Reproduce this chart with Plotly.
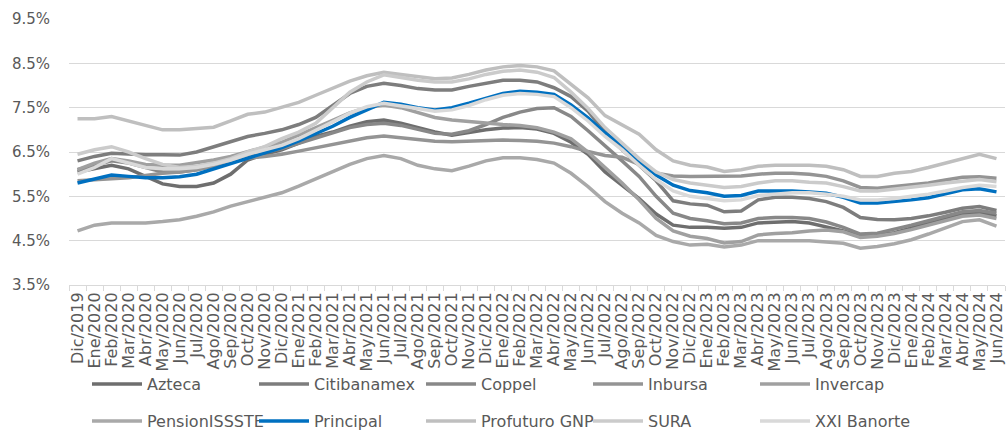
import plotly.graph_objects as go

months = ["Dic/2019",
          "Ene/2020","Feb/2020","Mar/2020","Abr/2020","May/2020","Jun/2020","Jul/2020","Ago/2020","Sep/2020","Oct/2020","Nov/2020","Dic/2020",
          "Ene/2021","Feb/2021","Mar/2021","Abr/2021","May/2021","Jun/2021","Jul/2021","Ago/2021","Sep/2021","Oct/2021","Nov/2021","Dic/2021",
          "Ene/2022","Feb/2022","Mar/2022","Abr/2022","May/2022","Jun/2022","Jul/2022","Ago/2022","Sep/2022","Oct/2022","Nov/2022","Dic/2022",
          "Ene/2023","Feb/2023","Mar/2023","Abr/2023","May/2023","Jun/2023","Jul/2023","Ago/2023","Sep/2023","Oct/2023","Nov/2023","Dic/2023",
          "Ene/2024","Feb/2024","Mar/2024","Abr/2024","May/2024","Jun/2024"]

azteca = [6.05,6.12,6.2,6.12,5.95,5.78,5.72,5.72,5.8,6.0,6.32,6.45,
          6.55,6.7,6.85,6.95,7.08,7.18,7.22,7.15,7.05,6.95,6.88,6.95,
          7.0,7.04,7.05,7.02,6.92,6.72,6.45,6.05,5.75,5.45,5.1,4.85,
          4.8,4.8,4.78,4.8,4.9,4.92,4.93,4.9,4.82,4.72,4.6,4.62,
          4.68,4.78,4.88,5.0,5.1,5.14,5.06]
citibanamex = [6.3,6.4,6.47,6.45,6.44,6.44,6.43,6.5,6.62,6.75,6.85,6.92,
               7.0,7.12,7.28,7.55,7.82,7.98,8.05,8.0,7.93,7.9,7.9,7.98,
               8.06,8.12,8.12,8.08,7.95,7.75,7.42,6.95,6.55,6.2,5.85,5.4,
               5.33,5.3,5.15,5.17,5.42,5.48,5.48,5.45,5.38,5.25,5.02,4.98,
               4.97,5.0,5.06,5.14,5.23,5.27,5.18]
coppel = [6.1,6.2,6.3,6.25,6.15,6.05,6.05,6.1,6.2,6.3,6.42,6.5,
          6.58,6.7,6.82,6.95,7.05,7.12,7.15,7.1,7.0,6.92,6.9,6.98,
          7.12,7.28,7.4,7.48,7.5,7.3,6.98,6.65,6.3,5.95,5.5,5.12,
          5.0,4.95,4.88,4.9,5.0,5.02,5.02,5.0,4.92,4.8,4.65,4.67,
          4.75,4.85,4.95,5.05,5.15,5.18,5.12]
inbursa = [5.85,5.87,5.9,5.92,5.97,6.02,6.05,6.1,6.18,6.28,6.36,6.4,
           6.45,6.52,6.6,6.68,6.75,6.82,6.86,6.82,6.77,6.74,6.73,6.74,
           6.76,6.77,6.76,6.74,6.7,6.62,6.51,6.42,6.38,6.22,6.02,5.96,
           5.95,5.95,5.95,5.96,6.0,6.02,6.02,6.0,5.95,5.85,5.7,5.68,
           5.72,5.76,5.8,5.87,5.93,5.94,5.91]
invercap = [6.1,6.25,6.35,6.3,6.22,6.2,6.2,6.25,6.32,6.4,6.5,6.6,
            6.72,6.88,7.05,7.22,7.38,7.5,7.56,7.5,7.38,7.28,7.22,7.18,
            7.15,7.12,7.1,7.05,6.95,6.8,6.5,6.15,5.8,5.42,5.0,4.72,
            4.6,4.55,4.45,4.48,4.63,4.66,4.68,4.72,4.74,4.7,4.57,4.6,
            4.66,4.75,4.85,4.95,5.05,5.08,5.0]
pensionissste = [4.72,4.85,4.9,4.9,4.9,4.93,4.97,5.05,5.15,5.28,5.38,5.46,
                 5.58,5.73,5.9,6.07,6.22,6.35,6.42,6.35,6.2,6.12,6.08,6.18,
                 6.3,6.37,6.37,6.33,6.25,6.02,5.72,5.38,5.12,4.9,4.62,4.48,
                 4.4,4.42,4.36,4.4,4.5,4.5,4.5,4.5,4.47,4.44,4.33,4.37,
                 4.43,4.52,4.65,4.78,4.93,4.97,4.83]
principal = [5.8,5.9,5.98,5.95,5.92,5.92,5.94,6.0,6.12,6.25,6.37,6.47,
             6.6,6.75,6.92,7.08,7.28,7.45,7.62,7.58,7.5,7.45,7.5,7.6,
             7.72,7.82,7.87,7.85,7.8,7.56,7.27,6.93,6.66,6.3,5.98,5.75,
             5.63,5.58,5.5,5.52,5.62,5.62,5.62,5.6,5.57,5.48,5.35,5.35,
             5.38,5.42,5.47,5.56,5.65,5.67,5.6]
profuturo = [7.25,7.25,7.3,7.2,7.08,7.0,7.0,7.03,7.06,7.2,7.35,7.4,
             7.5,7.62,7.78,7.95,8.1,8.22,8.3,8.25,8.2,8.15,8.17,8.25,
             8.35,8.42,8.45,8.42,8.33,8.02,7.72,7.32,7.1,6.9,6.55,6.3,
             6.2,6.16,6.06,6.1,6.18,6.2,6.2,6.2,6.18,6.1,5.95,5.95,
             6.02,6.06,6.15,6.25,6.36,6.45,6.35]
sura = [6.45,6.55,6.62,6.5,6.35,6.22,6.15,6.18,6.25,6.35,6.5,6.62,
        6.8,6.95,7.15,7.5,7.85,8.08,8.24,8.18,8.12,8.08,8.08,8.15,
        8.25,8.32,8.35,8.3,8.18,7.85,7.48,7.05,6.7,6.35,6.05,5.88,
        5.8,5.75,5.7,5.72,5.8,5.85,5.85,5.82,5.8,5.72,5.62,5.62,
        5.66,5.7,5.75,5.8,5.85,5.88,5.83]
xxi = [6.0,6.15,6.35,6.25,6.15,6.12,6.12,6.15,6.22,6.32,6.45,6.55,
       6.65,6.8,6.98,7.18,7.38,7.52,7.6,7.55,7.48,7.42,7.45,7.55,
       7.68,7.78,7.82,7.8,7.75,7.5,7.2,6.85,6.55,6.2,5.88,5.62,
       5.5,5.45,5.4,5.42,5.52,5.55,5.58,5.58,5.55,5.5,5.42,5.42,
       5.45,5.5,5.55,5.62,5.7,5.75,5.72]

series = [
    ("Azteca", azteca, "#6e6e6e", "legend"),
    ("Citibanamex", citibanamex, "#7d7d7d", "legend"),
    ("Coppel", coppel, "#888888", "legend"),
    ("Inbursa", inbursa, "#949494", "legend"),
    ("Invercap", invercap, "#a0a0a0", "legend"),
    ("PensionISSSTE", pensionissste, "#a9a9a9", "legend2"),
    ("Principal", principal, "#0070C0", "legend2"),
    ("Profuturo GNP", profuturo, "#bfbfbf", "legend2"),
    ("SURA", sura, "#cbcbcb", "legend2"),
    ("XXI Banorte", xxi, "#d9d9d9", "legend2"),
]

fig = go.Figure()
for name, vals, color, leg in series:
    fig.add_trace(go.Scatter(
        x=months, y=vals, name=name, mode="lines",
        line=dict(color=color, width=3.5),
        legend=leg,
    ))

font_family = "DejaVu Sans, Open Sans, sans-serif"
legend_common = dict(
    orientation="h", xanchor="left", yanchor="middle",
    xref="container", yref="container",
    entrywidth=102, entrywidthmode="pixels",
    font=dict(size=16, color="#595959", family=font_family),
    bgcolor="rgba(0,0,0,0)", itemwidth=50, tracegroupgap=0,
)

fig.update_layout(
    width=1008, height=430,
    margin=dict(l=69, r=3, t=19, b=145),
    paper_bgcolor="white", plot_bgcolor="white",
    font=dict(family=font_family, color="#595959"),
    legend=dict(x=87 / 1008, y=1 - 384 / 430, **legend_common),
    legend2=dict(x=87 / 1008, y=1 - 421 / 430, **legend_common),
    showlegend=True,
)
fig.update_xaxes(
    type="category", range=[-0.5, len(months) - 0.5],
    tickmode="array", tickvals=months, ticktext=months,
    tickangle=-90, tickfont=dict(size=16, color="#595959", family=font_family),
    showgrid=False, showline=True, linecolor="#d9d9d9", linewidth=1,
    ticks="outside", tickson="boundaries", ticklen=5, tickcolor="#d9d9d9",
    automargin=False,
)
fig.update_yaxes(
    range=[3.5, 9.5], tick0=3.5, dtick=1, tickformat=".1f", ticksuffix="%",
    tickfont=dict(size=15, color="#595959", family=font_family),
    showgrid=True, gridcolor="#d9d9d9", gridwidth=1,
    zeroline=False, showline=False, ticks="", ticklabelstandoff=18,
    automargin=False,
)

fig.write_html(
    "out.html",
    config={"displayModeBar": False},
    post_script="document.body.style.margin='0px';document.body.style.overflow='hidden';",
)
